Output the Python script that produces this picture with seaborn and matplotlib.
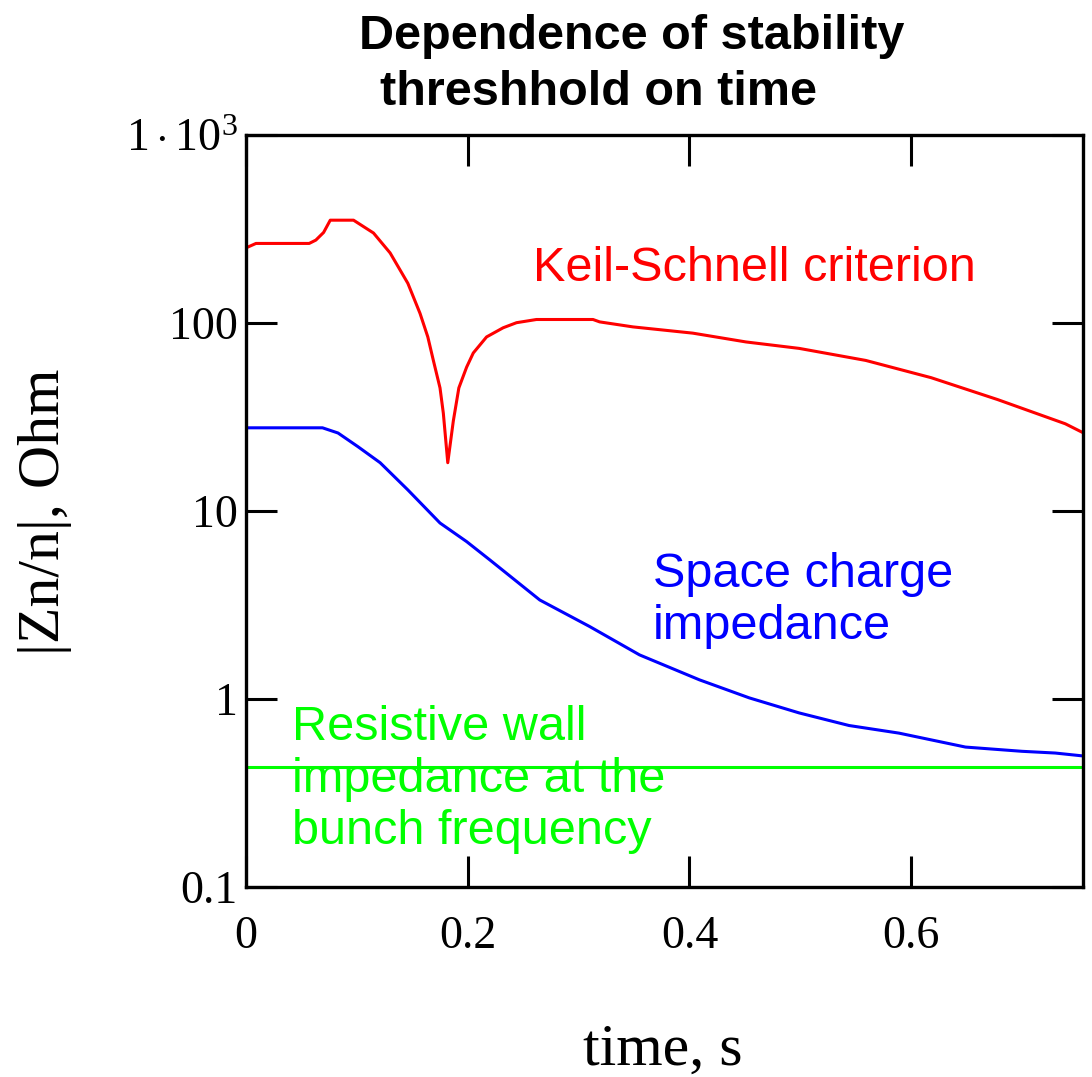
import numpy as np
import pandas as pd
import matplotlib
matplotlib.use("Agg")
import matplotlib.pyplot as plt
import seaborn as sns

# ---- data ----
ks_time = [0.0, 0.009, 0.057, 0.063, 0.070, 0.076, 0.097, 0.115, 0.130, 0.146,
           0.157, 0.164, 0.169, 0.175, 0.178, 0.182, 0.187, 0.192, 0.199, 0.205,
           0.217, 0.232, 0.244, 0.262, 0.313, 0.319, 0.349, 0.403, 0.451, 0.499,
           0.559, 0.618, 0.678, 0.739, 0.755]
ks_z = [250, 264, 264, 275, 302, 351, 351, 300, 235, 162,
        112, 84, 63, 45, 33, 18, 30, 45, 58, 69,
        84, 94, 100, 104, 104, 101, 95, 88, 79, 73,
        63, 51, 39, 29, 26]

sc_time = [0.0, 0.069, 0.083, 0.101, 0.121, 0.146, 0.175, 0.199, 0.220, 0.265,
           0.310, 0.355, 0.409, 0.454, 0.499, 0.544, 0.589, 0.649, 0.700, 0.730,
           0.755]
sc_z = [27.6, 27.6, 25.9, 21.9, 18.0, 12.9, 8.6, 6.85, 5.47, 3.35,
        2.42, 1.71, 1.26, 1.01, 0.84, 0.72, 0.656, 0.553, 0.525, 0.514,
        0.496]

rw_time = [0.0, 0.755]
rw_z = [0.433, 0.433]

x_ticks = [0, 0.2, 0.4, 0.6]
x_ticklabels = ["0", "0.2", "0.4", "0.6"]
y_ticks = [0.1, 1, 10, 100, 1000]
y_ticklabels = ["0.1", "1", "10", "100", r"$1\cdot10^{3}$"]

title_lines = ["Dependence of stability", "threshhold on time"]
ylabel = "|Zn/n|, Ohm"
xlabel = "time, s"

# ---- style ----
sns.set_theme(style="white")
plt.rcParams["font.family"] = ["Liberation Serif", "DejaVu Serif"]
plt.rcParams["mathtext.fontset"] = "custom"
plt.rcParams["mathtext.rm"] = "Liberation Serif"
plt.rcParams["mathtext.it"] = "Liberation Serif:italic"
plt.rcParams["text.color"] = "black"
plt.rcParams["axes.labelcolor"] = "black"
plt.rcParams["xtick.color"] = "black"
plt.rcParams["ytick.color"] = "black"

fig = plt.figure(figsize=(10.92, 10.77), dpi=100)
ax = fig.add_axes([246 / 1092, 1 - 886.7 / 1077, 837 / 1092, (886.7 - 134.7) / 1077])

red, blue, green = "#FF0000", "#0000FF", "#00FF00"
lw = 2.2
sns.lineplot(x=ks_time, y=ks_z, ax=ax, color=red, linewidth=lw, sort=False)
sns.lineplot(x=sc_time, y=sc_z, ax=ax, color=blue, linewidth=lw, sort=False)
sns.lineplot(x=rw_time, y=rw_z, ax=ax, color=green, linewidth=lw, sort=False)

ax.set_yscale("log")
ax.set_xlim(0, 0.755)
ax.set_ylim(0.1, 1000)
ax.set_xticks(x_ticks)
ax.set_xticklabels(x_ticklabels)
ax.set_yticks(y_ticks)
ax.set_yticklabels(y_ticklabels)
ax.yaxis.set_minor_locator(matplotlib.ticker.NullLocator())

ax.tick_params(axis="both", which="major", direction="in", length=22, width=2.2,
               top=True, right=True, bottom=True, left=True, color="black",
               labelsize=33, labelcolor="black")
ax.tick_params(axis="x", pad=21)
ax.tick_params(axis="y", pad=6)
for s in ax.spines.values():
    s.set_visible(True)
    s.set_color("black")
    s.set_linewidth(2.4)
ax.set_xlabel("")
ax.set_ylabel("")
ax.grid(False)

sans = ["Liberation Sans", "DejaVu Sans"]
ax.text(0.259, 195, "Keil-Schnell criterion", color=red, fontsize=35,
        family=sans, ha="left", va="center")
ax.text(0.367, 3.31, "Space charge\nimpedance", color=blue, fontsize=35,
        family=sans, ha="left", va="center", linespacing=1.2)
ax.text(0.0415, 0.370, "Resistive wall\nimpedance at the\nbunch frequency", color=green,
        fontsize=35, family=sans, ha="left", va="center", linespacing=1.2)

fig.text(632 / 1092, 1 - 49 / 1077, title_lines[0], fontsize=35, fontweight="bold",
         family=sans, ha="center", va="baseline", color="black")
fig.text(598 / 1092, 1 - 105 / 1077, title_lines[1], fontsize=35, fontweight="bold",
         family=sans, ha="center", va="baseline", color="black")

fig.text(45 / 1092, 1 - 512 / 1077, ylabel, fontsize=43, rotation=90,
         ha="center", va="center", color="black")
fig.text(663 / 1092, 1 - 1065 / 1077, xlabel, fontsize=43, ha="center",
         va="baseline", color="black")

fig.savefig("out.png", dpi=100, facecolor="white")
